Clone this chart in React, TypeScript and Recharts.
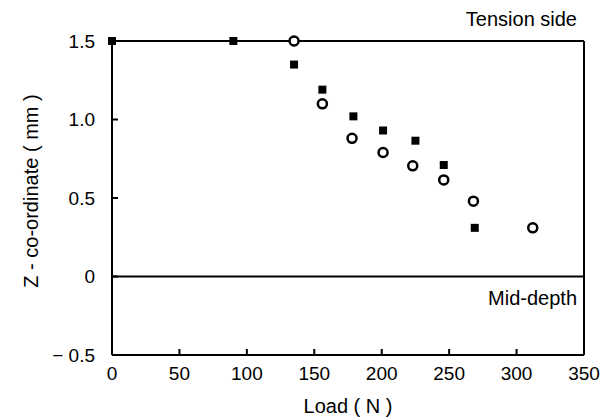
import React from 'react';
import {
  ScatterChart,
  Scatter,
  XAxis,
  YAxis,
  ReferenceLine,
} from 'recharts';

// load (N) and Z co-ordinate (mm)
const solidLoad = [0, 90, 135, 156, 179, 201, 225, 246, 269];
const solidZ = [1.5, 1.5, 1.35, 1.19, 1.02, 0.93, 0.865, 0.71, 0.31];
const openLoad = [135, 156, 178, 201, 223, 246, 268, 312];
const openZ = [1.5, 1.1, 0.88, 0.79, 0.705, 0.615, 0.48, 0.31];

const solidData = solidLoad.map((load, i) => ({ load, z: solidZ[i] }));
const openData = openLoad.map((load, i) => ({ load, z: openZ[i] }));

const font = '"Liberation Sans", Arial, sans-serif';
const labelStyle = { fill: '#000', fontSize: 20, fontFamily: font };

const fmtY = (v: number) => {
  if (v === 0) return '0';
  if (v < 0) return `\u2212 ${Math.abs(v).toFixed(1)}`;
  return v.toFixed(1);
};

const titleBase: React.CSSProperties = {
  position: 'absolute',
  fontFamily: font,
  fontSize: 20,
  lineHeight: '20px',
  color: '#000',
  textAlign: 'center',
  whiteSpace: 'nowrap',
};

const App = () => {
  return (
    <div style={{ position: 'relative', width: 608, height: 417 }}>
      <style>{'body{margin:0}'}</style>
      <ScatterChart
        width={608}
        height={417}
        margin={{ top: 41, right: 24, bottom: 0, left: 0 }}
      >
        <XAxis
          dataKey="load"
          type="number"
          domain={[0, 350]}
          tickCount={8}
          height={62}
          tickSize={-6}
          tickMargin={18}
          stroke="#000"
          strokeWidth={2}
          fontSize={19}
          fontFamily={font}
        />
        <YAxis
          dataKey="z"
          type="number"
          domain={[-0.5, 1.5]}
          tickCount={5}
          width={112}
          tickSize={-6}
          tickMargin={23}
          tickFormatter={fmtY}
          stroke="#000"
          strokeWidth={2}
          fontSize={19}
          fontFamily={font}
        />
        <ReferenceLine x={350} stroke="#000" strokeWidth={2} />
        <ReferenceLine
          y={0}
          stroke="#000"
          strokeWidth={2}
          label={{
            value: 'Mid-depth',
            position: 'insideTopRight',
            offset: 7,
            dy: 7,
            style: labelStyle,
          }}
        />
        <ReferenceLine
          y={1.5}
          stroke="#000"
          strokeWidth={2}
          label={{
            value: 'Tension side',
            position: 'insideBottomRight',
            offset: 7,
            dy: -8,
            style: labelStyle,
          }}
        />
        <Scatter
          data={openData}
          shape="circle"
          fill="#fff"
          stroke="#000"
          strokeWidth={2.5}
          isAnimationActive={false}
        />
        <Scatter data={solidData} shape="square" fill="#000" isAnimationActive={false} />
      </ScatterChart>
      <div style={{ ...titleBase, left: 248, top: 396, width: 200 }}>Load ( N )</div>
      <div
        style={{
          ...titleBase,
          left: -99,
          top: 181,
          width: 260,
          height: 20,
          transform: 'rotate(-90deg)',
        }}
      >
        Z - co-ordinate ( mm )
      </div>
    </div>
  );
};

export default App;
